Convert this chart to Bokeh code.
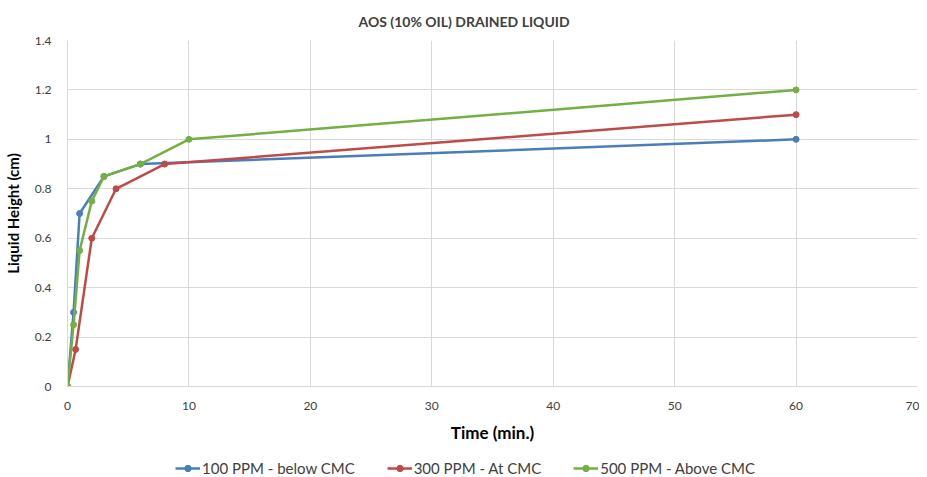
from bokeh.plotting import figure
from bokeh.layouts import column
from bokeh.models import Range1d, Legend, LegendItem, FixedTicker
from bokeh.embed import file_html
from bokeh.resources import INLINE

# Data
t_100 = [0, 0.5, 1, 3, 6, 60]
h_100 = [0, 0.3, 0.7, 0.85, 0.9, 1.0]

t_300 = [0, 0.67, 2, 4, 8, 60]
h_300 = [0, 0.15, 0.6, 0.8, 0.9, 1.1]

t_500 = [0, 0.5, 1, 2, 3, 6, 10, 60]
h_500 = [0, 0.25, 0.55, 0.75, 0.85, 0.9, 1.0, 1.2]

series_names = ["100 PPM - below CMC", "300 PPM - At CMC", "500 PPM - Above CMC"]
colors = ["#4A7EBB", "#BE4B48", "#72B043"]

x_ticks = [0, 10, 20, 30, 40, 50, 60, 70]
y_ticks = [0, 0.2, 0.4, 0.6, 0.8, 1.0, 1.2, 1.4]
y_tick_labels = {0: "0", 0.2: "0.2", 0.4: "0.4", 0.6: "0.6", 0.8: "0.8", 1.0: "1", 1.2: "1.2", 1.4: "1.4"}

FONT = "Lato"
series = [(t_100, h_100), (t_300, h_300), (t_500, h_500)]

p = figure(
    frame_width=850, frame_height=346,
    x_range=Range1d(0, 70), y_range=Range1d(0, 1.4),
    output_backend="svg", toolbar_location=None,
    min_border_left=10, min_border_right=2, min_border_top=10, min_border_bottom=10,
    title="AOS (10% OIL) DRAINED LIQUID",
)
p.title.align = "left"
p.title.offset = 291
p.title.text_font = FONT
p.title.text_font_size = "14px"
p.title.text_font_style = "bold"
p.title.text_color = "#404040"
p.title.standoff = 21

p.outline_line_color = None
p.background_fill_color = "white"

p.xaxis.ticker = FixedTicker(ticks=x_ticks)
p.yaxis.ticker = FixedTicker(ticks=y_ticks)
p.yaxis.major_label_overrides = y_tick_labels

for ax in (p.xaxis, p.yaxis):
    ax.axis_line_color = "#D9D9D9"
    ax.major_tick_line_color = None
    ax.minor_tick_line_color = None
    ax.major_label_text_font = FONT
    ax.major_label_text_font_size = "12px"
    ax.major_label_text_color = "#404040"
    ax.axis_label_text_font = FONT
    ax.axis_label_text_font_style = "bold"
    ax.axis_label_text_color = "#000000"

p.xaxis.axis_label = "Time (min.)"
p.xaxis.axis_label_text_font_size = "17px"
p.xaxis.major_label_standoff = 9
p.xaxis.axis_label_standoff = 9
p.yaxis.axis_label = "Liquid Height (cm)"
p.yaxis.axis_label_text_font_size = "15px"
p.yaxis.major_label_standoff = 10
p.yaxis.axis_label_standoff = 10

p.xgrid.grid_line_color = "#D9D9D9"
p.ygrid.grid_line_color = "#D9D9D9"

for (tx, hy), c in zip(series, colors):
    p.line(tx, hy, line_color=c, line_width=2.5)
    p.scatter(tx, hy, size=6, fill_color=c, line_color=c)

# Separate strip holding the legend below the chart (its data range hides the marks)
lg = figure(
    width=911, height=40, x_range=Range1d(100, 101), y_range=Range1d(100, 101),
    output_backend="svg", toolbar_location=None,
    min_border_left=0, min_border_right=0, min_border_top=0, min_border_bottom=0,
)
lg.axis.visible = False
lg.grid.visible = False
lg.outline_line_color = None

items = []
for (tx, hy), name, c in zip(series, series_names, colors):
    r1 = lg.line(tx, hy, line_color=c, line_width=2.5)
    r2 = lg.scatter(tx, hy, size=6, fill_color=c, line_color=c)
    items.append(LegendItem(label=name, renderers=[r1, r2]))

legend = Legend(items=items, orientation="horizontal", location=(108, 8))
legend.border_line_color = None
legend.background_fill_alpha = 0
legend.label_text_font = FONT
legend.label_text_font_size = "15px"
legend.label_text_color = "#404040"
legend.glyph_width = 25
legend.glyph_height = 16
legend.spacing = 32
legend.padding = 0
legend.margin = 0
legend.label_standoff = 2
legend.label_height = 16
lg.add_layout(legend, "center")

layout = column(p, lg, spacing=0)
open("out.html", "w").write(file_html(layout, INLINE))
